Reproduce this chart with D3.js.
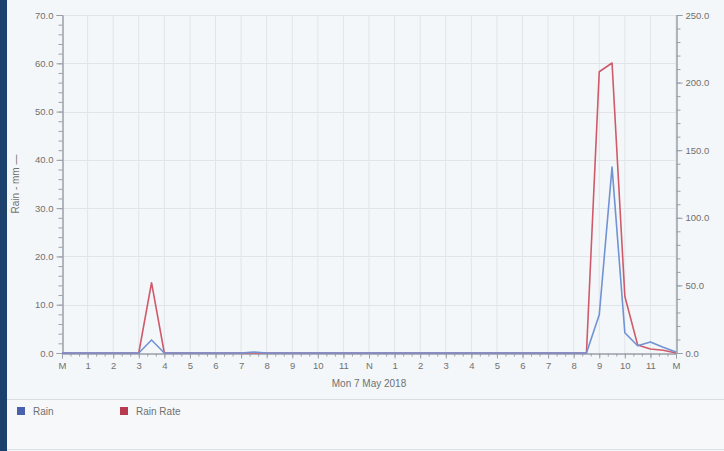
<!DOCTYPE html>
<html><head><meta charset="utf-8">
<script src="https://cdn.jsdelivr.net/npm/d3@7/dist/d3.min.js"></script>
<style>
html,body{margin:0;padding:0;background:#f4f7f9;}
svg{display:block;font-family:"Liberation Sans",Arial,sans-serif;}
</style></head>
<body>
<svg id="chart" width="724" height="451"></svg>
<script>
// ---- data ----
const hours = d3.range(0, 24.5, 0.5);
const rain = [
  0,0,0,0,0,0,0,2.7,0,0, 0,0,0,0,0,0.2,0,0,0,0,
  0,0,0,0,0,0,0,0,0,0, 0,0,0,0,0,0,0,0,0,0,
  0,0,7.9,38.5,4.2,1.5,2.3,1.2,0.2
];
const rainRate = [
  0,0,0,0,0,0,0,52,0,0, 0,0,0,0,0,0,0,0,0,0,
  0,0,0,0,0,0,0,0,0,0, 0,0,0,0,0,0,0,0,0,0,
  0,0,208,214.5,42,6,3,2,0
];
const xTickLabels = ["M","1","2","3","4","5","6","7","8","9","10","11","N","1","2","3","4","5","6","7","8","9","10","11","M"];
const leftTicks = [0,10,20,30,40,50,60,70];
const rightTicks = [0,50,100,150,200,250];
const xTitle = "Mon 7 May 2018";
const leftTitle = "Rain - mm —";
const legendItems = ["Rain","Rain Rate"];
const colors = {rain:"#7093d3", rate:"#cf5a6a", rainKey:"#4a62ad", rateKey:"#b73a4e"};

// ---- layout ----
const svg = d3.select("#chart");
const W = 724, H = 451;
const m = {left:62, right:676, top:15, bottom:353};
const FS = "9.5px";

svg.append("rect").attr("width",W).attr("height",H).attr("fill","#f4f7f9");
svg.append("rect").attr("x",0).attr("y",0).attr("width",7).attr("height",H).attr("fill","#1d416d");

const x = d3.scaleLinear().domain([0,24]).range([m.left, m.right]);
const yL = d3.scaleLinear().domain([0,70]).range([m.bottom, m.top]);
const yR = d3.scaleLinear().domain([0,250]).range([m.bottom, m.top]);

// grid
const g = svg.append("g");
g.selectAll(".vg").data(d3.range(1,25)).join("line")
  .attr("x1",d=>x(d)).attr("x2",d=>x(d)).attr("y1",m.top).attr("y2",m.bottom)
  .attr("stroke","#e1e5ea").attr("stroke-width",1);
g.selectAll(".hg").data(leftTicks.slice(1)).join("line")
  .attr("x1",m.left).attr("x2",m.right).attr("y1",d=>Math.round(yL(d))+0.5).attr("y2",d=>Math.round(yL(d))+0.5)
  .attr("stroke","#e1e5ea").attr("stroke-width",1);

// axes
function styleAxis(sel){
  sel.selectAll("path").attr("stroke","#9aa0a8");
  sel.selectAll("line").attr("stroke","#9aa0a8");
  sel.selectAll("text").attr("fill","#707070").attr("font-size",FS);
}
const aLm = svg.append("g").attr("transform",`translate(${m.left}.5,0)`)
  .call(d3.axisLeft(yL).tickValues(d3.range(0,71,2)).tickSize(4).tickFormat(""));
styleAxis(aLm);
const aL = svg.append("g").attr("transform",`translate(${m.left}.5,0)`)
  .call(d3.axisLeft(yL).tickValues(leftTicks).tickSize(6).tickPadding(3).tickFormat(d3.format(".1f")));
styleAxis(aL);
const aRm = svg.append("g").attr("transform",`translate(${m.right}.5,0)`)
  .call(d3.axisRight(yR).tickValues(d3.range(0,251,10)).tickSize(4).tickFormat(""));
styleAxis(aRm);
const aR = svg.append("g").attr("transform",`translate(${m.right}.5,0)`)
  .call(d3.axisRight(yR).tickValues(rightTicks).tickSize(6).tickPadding(3).tickFormat(d3.format(".1f")));
styleAxis(aR);
const aXm = svg.append("g").attr("transform",`translate(0,${m.bottom}.5)`)
  .call(d3.axisBottom(x).tickValues(d3.range(0,24.01,1/3)).tickSize(3).tickFormat(""));
styleAxis(aXm);
const aX = svg.append("g").attr("transform",`translate(0,${m.bottom}.5)`)
  .call(d3.axisBottom(x).tickValues(d3.range(0,25)).tickSize(5).tickPadding(4).tickFormat((d,i)=>xTickLabels[i]));
styleAxis(aX);

// titles
svg.append("text").attr("x",(m.left+m.right)/2).attr("y",387).attr("text-anchor","middle")
  .attr("font-size","10px").attr("fill","#707070").text(xTitle);
svg.append("text").attr("transform","translate(19,184) rotate(-90)").attr("text-anchor","middle")
  .attr("font-size","10px").attr("fill","#707070").text(leftTitle);

// lines
const lineL = d3.line().x((d,i)=>x(hours[i])).y(d=>yL(d));
const lineR = d3.line().x((d,i)=>x(hours[i])).y(d=>yR(d));
svg.append("path").datum(rainRate).attr("d",lineR).attr("fill","none")
  .attr("stroke",colors.rate).attr("stroke-width",1.6).attr("stroke-linejoin","round");
svg.append("path").datum(rain).attr("d",lineL).attr("fill","none")
  .attr("stroke",colors.rain).attr("stroke-width",1.6).attr("stroke-linejoin","round");

// legend
svg.append("rect").attr("x",7).attr("y",400).attr("width",W-7).attr("height",49).attr("fill","#f6f8fa");
svg.append("line").attr("x1",7).attr("x2",W).attr("y1",399.5).attr("y2",399.5).attr("stroke","#d8dde2");
svg.append("line").attr("x1",7).attr("x2",W).attr("y1",449.5).attr("y2",449.5).attr("stroke","#dde1e5");
const lg = svg.append("g");
const keyX = [17,120];
lg.selectAll("rect").data(legendItems).join("rect")
  .attr("x",(d,i)=>keyX[i]).attr("y",407).attr("width",8).attr("height",8)
  .attr("fill",(d,i)=>i===0?colors.rainKey:colors.rateKey);
lg.selectAll("text").data(legendItems).join("text")
  .attr("x",(d,i)=>keyX[i]+16).attr("y",415).attr("font-size","10px").attr("fill","#707070").text(d=>d);
</script>
</body></html>
